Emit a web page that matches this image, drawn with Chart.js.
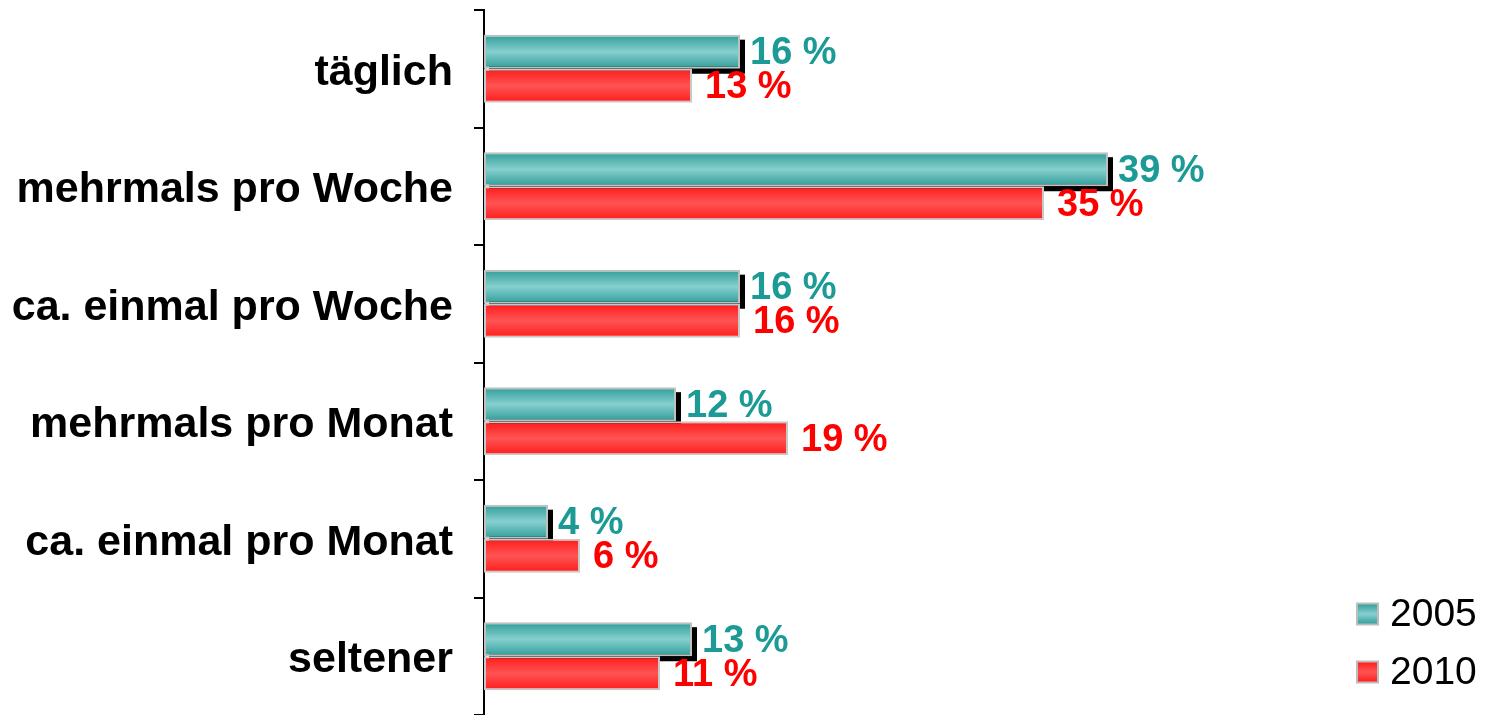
<!DOCTYPE html>
<html>
<head>
<meta charset="utf-8">
<script src="https://cdn.jsdelivr.net/npm/chart.js@4.4.1/dist/chart.umd.min.js"></script>
<style>
  html, body { margin: 0; padding: 0; background: #fff; }
  #wrap { width: 1488px; height: 715px; }
</style>
</head>
<body>
<div id="wrap"><canvas id="chart" width="1488" height="715"></canvas></div>
<script>
const categories = ["täglich", "mehrmals pro Woche", "ca. einmal pro Woche", "mehrmals pro Monat", "ca. einmal pro Monat", "seltener"];
const years = ["2005", "2010"];
const values2005 = [16, 39, 16, 12, 4, 13];
const values2010 = [13, 35, 16, 19, 6, 11];

const tealLabel = "#1b9a96";
const redLabel = "#ff0000";

function gradientFor(ctx, top, bottom, edge, mid) {
  const g = ctx.createLinearGradient(0, top, 0, bottom);
  g.addColorStop(0, edge);
  g.addColorStop(0.5, mid);
  g.addColorStop(1, edge);
  return g;
}

// vertical shine on each bar, based on where the category sits on the y scale
function barFill(edge, mid, upper) {
  return (c) => {
    const chart = c.chart;
    const y = chart.scales.y;
    if (!y || c.dataIndex === undefined) return edge;
    const center = y.getPixelForValue(c.dataIndex);
    const h = (y.height / categories.length) * 0.58 / 2;
    if (!isFinite(center) || !isFinite(h) || h <= 0) return edge;
    const top = upper ? center - h : center;
    return gradientFor(chart.ctx, top, top + h, edge, mid);
  };
}

// black drop shadow behind the 2005 bars
const shadowPlugin = {
  id: "shadow",
  beforeDatasetsDraw(chart) {
    const ctx = chart.ctx;
    const meta = chart.getDatasetMeta(0);
    ctx.save();
    ctx.fillStyle = "#000";
    meta.data.forEach((bar) => {
      const p = bar.getProps(["x", "y", "base", "height"], true);
      ctx.fillRect(p.base + 5, p.y - p.height / 2 + 5, p.x - p.base, p.height);
    });
    ctx.restore();
  }
};

// "16 %" style labels after each bar
const valueLabels = {
  id: "valueLabels",
  afterDatasetsDraw(chart) {
    const ctx = chart.ctx;
    ctx.save();
    ctx.font = "bold 38px 'Liberation Sans', Arial, sans-serif";
    ctx.textBaseline = "middle";
    ctx.textAlign = "left";
    chart.data.datasets.forEach((ds, di) => {
      const meta = chart.getDatasetMeta(di);
      meta.data.forEach((bar, i) => {
        const p = bar.getProps(["x", "y"], true);
        ctx.fillStyle = di === 0 ? tealLabel : redLabel;
        const dx = di === 0 ? 10 : 13;
        ctx.fillText(ds.data[i] + " %", p.x + dx, p.y + 2);
      });
    });
    ctx.restore();
  }
};

// legend in the lower right corner
const cornerLegend = {
  id: "cornerLegend",
  afterDraw(chart) {
    const ctx = chart.ctx;
    const items = [
      { text: years[0], edge: "#2f9c97", mid: "#86d0cf", y: 614 },
      { text: years[1], edge: "#ff1a1a", mid: "#ff5454", y: 672 }
    ];
    ctx.save();
    items.forEach((it) => {
      const x = 1357, s = 21;
      ctx.fillStyle = gradientFor(ctx, it.y - s / 2, it.y + s / 2, it.edge, it.mid);
      ctx.fillRect(x, it.y - s / 2, s, s);
      ctx.strokeStyle = "#bdbdbd";
      ctx.lineWidth = 2;
      ctx.strokeRect(x, it.y - s / 2, s, s);
      ctx.fillStyle = "#000";
      ctx.font = "39px 'Liberation Sans', Arial, sans-serif";
      ctx.textBaseline = "middle";
      ctx.fillText(it.text, 1390, it.y + 1);
    });
    ctx.restore();
  }
};

new Chart(document.getElementById("chart"), {
  type: "bar",
  data: {
    labels: categories,
    datasets: [
      {
        label: years[0],
        data: values2005,
        backgroundColor: barFill("#2f9c97", "#86d0cf", true),
        borderColor: "#c0c0c0",
        borderWidth: 2,
        borderSkipped: false,
        categoryPercentage: 0.58,
        barPercentage: 1
      },
      {
        label: years[1],
        data: values2010,
        backgroundColor: barFill("#ff1a1a", "#ff5454", false),
        borderColor: "#c8c8c8",
        borderWidth: 2,
        borderSkipped: false,
        categoryPercentage: 0.58,
        barPercentage: 1
      }
    ]
  },
  options: {
    indexAxis: "y",
    responsive: false,
    animation: false,
    layout: { padding: { left: 0, right: 204, top: 10, bottom: 0 } },
    plugins: {
      legend: { display: false },
      tooltip: { enabled: false }
    },
    scales: {
      x: {
        display: false,
        min: 0,
        max: 50
      },
      y: {
        afterFit(scale) {
          scale.width = 484;
          scale.paddingTop = 0;
          scale.paddingBottom = 0;
        },
        border: { display: true, color: "#000", width: 2 },
        grid: {
          display: true,
          drawOnChartArea: false,
          drawTicks: true,
          tickLength: 10,
          color: "#000",
          lineWidth: 2
        },
        ticks: {
          color: "#000",
          padding: 21,
          labelOffset: 4,
          font: { family: "'Liberation Sans', Arial, sans-serif", size: 43, weight: "bold" }
        }
      }
    }
  },
  plugins: [shadowPlugin, valueLabels, cornerLegend]
});
</script>
</body>
</html>
